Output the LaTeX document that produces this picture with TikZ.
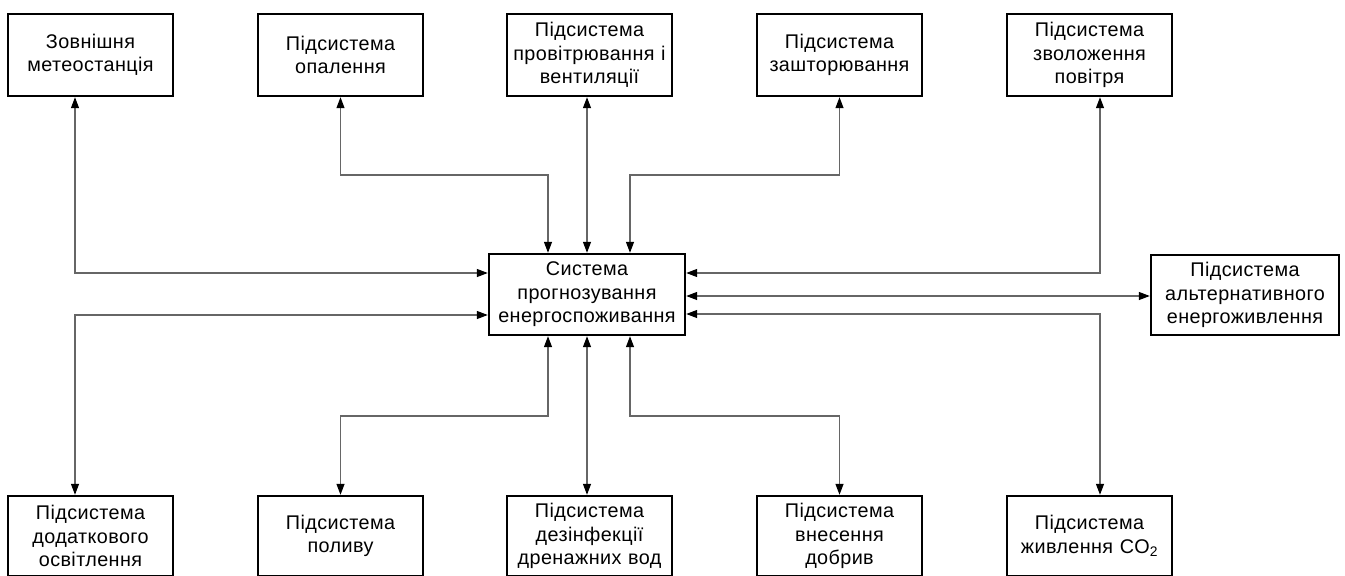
\documentclass[tikz,border=0pt]{standalone}
\usepackage{fontspec}
\setmainfont[LetterSpace=2]{Liberation Sans}
\usetikzlibrary{arrows.meta}
\begin{document}
\begin{tikzpicture}[x=1pt,y=-1pt,
  box/.style={draw=black,line width=2.4pt,fill=white,minimum width=165pt,minimum height=82pt,
     text width=163pt,align=center,inner sep=0pt,font=\fontsize{19.8}{23.5}\selectfont},
  conn/.style={draw=black!60,line width=1.2pt,
     {Triangle[length=11pt,width=8pt,fill=black,color=black]}-{Triangle[length=11pt,width=8pt,fill=black,color=black]}}]
\useasboundingbox (0,0) rectangle (1345,576);
% top row
\node[box] (t1) at (90.5,55) {Зовнішня\\метеостанція};
\node[box] (t2) at (340.5,55) {Підсистема\\опалення};
\node[box] (t3) at (589.5,55) {Підсистема\\провітрювання і\\вентиляції};
\node[box] (t4) at (839.5,55) {Підсистема\\зашторювання};
\node[box] (t5) at (1089.5,55) {Підсистема\\зволоження\\повітря};
% bottom row
\node[box,minimum height=80pt] (b1) at (90.5,536) {Підсистема\\додаткового\\освітлення};
\node[box,minimum height=80pt] (b2) at (340.5,536) {Підсистема\\поливу};
\node[box,minimum height=80pt] (b3) at (589.5,536) {Підсистема\\дезінфекції\\дренажних вод};
\node[box,minimum height=80pt] (b4) at (839.5,536) {Підсистема\\внесення\\добрив};
\node[box,minimum height=80pt] (b5) at (1089.5,536) {Підсистема\\живлення CO\textsubscript{2}};
% center
\node[box,minimum width=196pt,minimum height=81pt,text width=194pt] (c) at (587,294.5) {Система\\прогнозування\\енергоспоживання};
\node[box,minimum width=188pt,minimum height=80pt,text width=186pt] (r) at (1245,295) {Підсистема\\альтернативного\\енергоживлення};
% helper coordinates
\coordinate (x1) at (75,273);
\coordinate (x5) at (1100,273);
\coordinate (k2) at (548,175);
\coordinate (k4) at (630,175);
\coordinate (k2b) at (548,416);
\coordinate (k4b) at (630,416);
\coordinate (y1b) at (75,315);
\coordinate (y5b) at (1100,314);
\coordinate (ym) at (0,296);
% connectors top
\draw[conn] (t1.south -| x1) |- (c.west |- x1);
\draw[conn] (t2.south) |- (k2) -- (c.north -| k2);
\draw[conn] (t3.south -| c.north) -- (c.north);
\draw[conn] (t4.south) |- (k4) -- (c.north -| k4);
\draw[conn] (t5.south -| x5) |- (c.east |- x5);
% connectors bottom
\draw[conn] (b1.north -| y1b) |- (c.west |- y1b);
\draw[conn] (b2.north) |- (k2b) -- (c.south -| k2b);
\draw[conn] (b3.north -| c.south) -- (c.south);
\draw[conn] (b4.north) |- (k4b) -- (c.south -| k4b);
\draw[conn] (b5.north -| y5b) |- (c.east |- y5b);
% right
\draw[conn] (c.east |- ym) -- (r.west |- ym);
\end{tikzpicture}
\end{document}
